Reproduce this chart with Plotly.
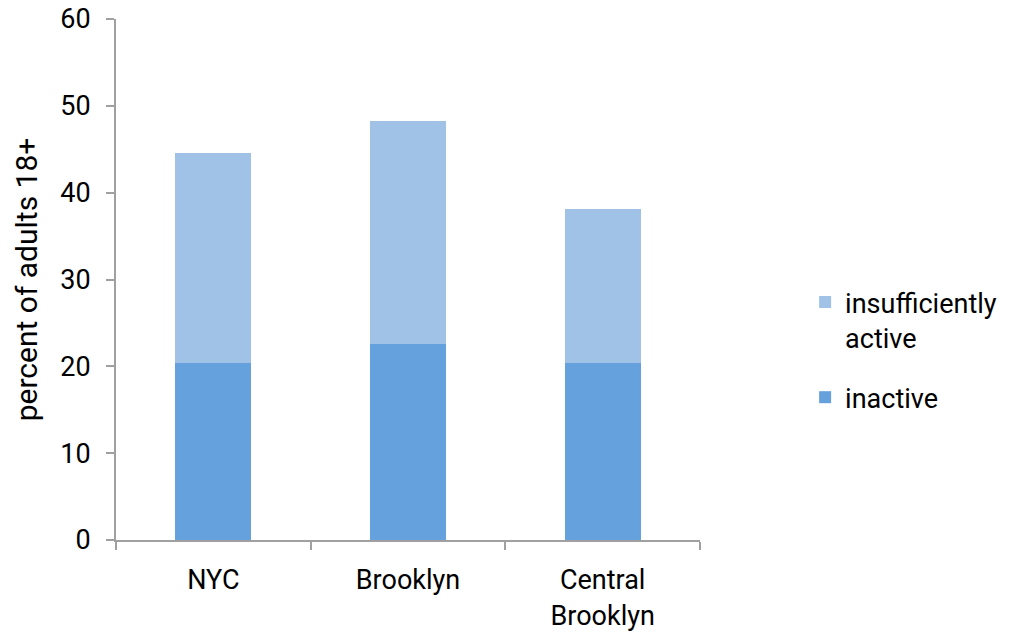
import plotly.graph_objects as go

categories = ["NYC", "Brooklyn", "Central<br>Brooklyn"]
inactive = [20.4, 22.6, 20.4]
insufficiently_active = [24.2, 25.6, 17.7]
y_ticks = [0, 10, 20, 30, 40, 50, 60]

FONT = "Roboto"
AXIS_COLOR = "#A0A0A0"

fig = go.Figure()
fig.add_trace(go.Bar(x=categories, y=inactive, name="inactive", legendgroup="a", legendrank=2,
                     marker=dict(color="#65A1DD", line=dict(width=0))))
fig.add_trace(go.Bar(x=categories, y=insufficiently_active, name="insufficiently<br>active",
                     legendgroup="b", legendrank=1,
                     marker=dict(color="#A0C2E7", line=dict(width=0))))

fig.update_layout(
    barmode="stack",
    bargap=0.61,
    width=1025, height=634,
    margin=dict(l=116, r=325, t=19, b=94, autoexpand=False),
    paper_bgcolor="white", plot_bgcolor="white",
    font=dict(family=FONT, size=27, color="#000000"),
    legend=dict(x=1.18, y=0.503, xanchor="left", yanchor="top",
                traceorder="grouped", tracegroupgap=22, valign="top",
                font=dict(family=FONT, size=27, color="#000000"),
                itemwidth=30),
    showlegend=True,
)
fig.update_xaxes(
    automargin=False,
    showline=True, linecolor=AXIS_COLOR, linewidth=2,
    ticks="outside", tickson="boundaries", ticklen=8, tickcolor=AXIS_COLOR, tickwidth=2,
    tickfont=dict(family=FONT, size=27, color="#000000"),
    ticklabelstandoff=15,
)
fig.update_yaxes(
    automargin=False,
    range=[0, 60], tickvals=y_ticks, showgrid=False, zeroline=False,
    showline=True, linecolor=AXIS_COLOR, linewidth=2,
    ticks="outside", ticklen=8, tickcolor=AXIS_COLOR, tickwidth=2,
    tickfont=dict(family=FONT, size=27, color="#000000"),
    ticklabelstandoff=10,
    title=dict(text="percent of adults 18+", font=dict(family=FONT, size=30, color="#000000"), standoff=14),
)

fig.write_html("out.html")
